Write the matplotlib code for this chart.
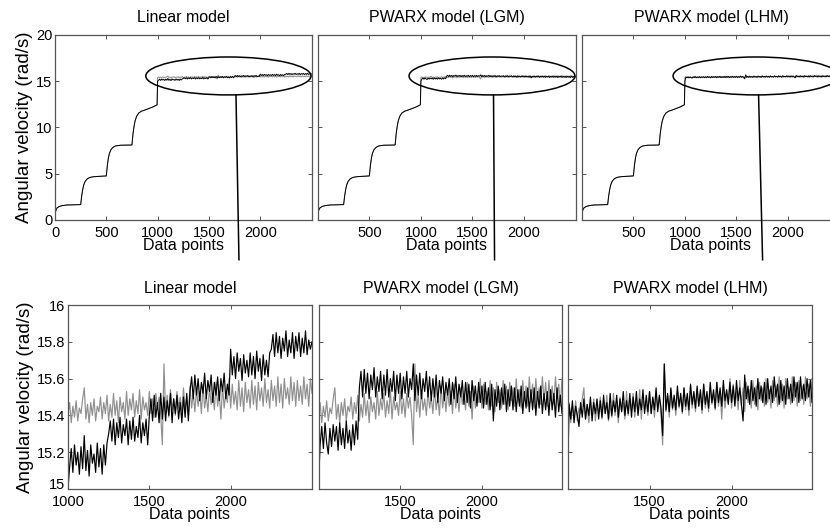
import numpy as np
import matplotlib
matplotlib.use("Agg")
import matplotlib.pyplot as plt
import matplotlib.transforms as mtransforms
from matplotlib.patches import Ellipse

plt.rcParams['font.family'] = ['Liberation Sans', 'DejaVu Sans']

# --- step response up to sample 1000 (shared by all models) ---
step_x = [0, 5, 10, 20, 40, 70, 120, 240, 250, 260, 270, 280, 295, 315, 340, 380,
          490, 500, 510, 520, 530, 545, 565, 590, 640, 745, 750, 760, 770, 780,
          795, 815, 840, 880, 950, 995]
step_y = [0.5, 0.9, 1.1, 1.3, 1.45, 1.55, 1.62, 1.65, 1.66, 2.6, 3.3, 3.8, 4.2, 4.45,
          4.6, 4.68, 4.75, 4.76, 5.9, 6.7, 7.2, 7.6, 7.85, 8.0, 8.08, 8.1, 8.12,
          9.3, 10.1, 10.7, 11.2, 11.55, 11.75, 11.9, 12.2, 12.45]

# --- last plateau, one reading every 10 samples from 1000 to 2500 ---
tail_x = np.arange(1000, 2501, 10)

measured = [
    15.40, 15.47, 15.36, 15.45, 15.39, 15.48, 15.37, 15.44, 15.41, 15.49,
    15.55, 15.38, 15.46, 15.36, 15.47, 15.40, 15.49, 15.37, 15.45, 15.42,
    15.50, 15.38, 15.47, 15.41, 15.51, 15.37, 15.46, 15.39, 15.52, 15.40,
    15.48, 15.36, 15.50, 15.42, 15.47, 15.38, 15.53, 15.40, 15.49, 15.43,
    15.52, 15.39, 15.48, 15.41, 15.54, 15.38, 15.50, 15.43, 15.47, 15.40,
    15.53, 15.41, 15.49, 15.39, 15.52, 15.44, 15.50, 15.40, 15.24, 15.68,
    15.42, 15.51, 15.39, 15.54, 15.43, 15.49, 15.40, 15.53, 15.44, 15.50,
    15.41, 15.55, 15.43, 15.50, 15.40, 15.56, 15.44, 15.52, 15.42, 15.54,
    15.45, 15.53, 15.41, 15.57, 15.44, 15.51, 15.42, 15.55, 15.46, 15.52,
    15.43, 15.58, 15.45, 15.53, 15.38, 15.56, 15.44, 15.52, 15.47, 15.60,
    15.44, 15.57, 15.46, 15.53, 15.43, 15.59, 15.45, 15.55, 15.42, 15.58,
    15.47, 15.54, 15.44, 15.59, 15.46, 15.56, 15.43, 15.58, 15.48, 15.55,
    15.45, 15.60, 15.47, 15.54, 15.44, 15.59, 15.48, 15.56, 15.45, 15.61,
    15.47, 15.57, 15.44, 15.60, 15.49, 15.55, 15.46, 15.61, 15.48, 15.58,
    15.45, 15.59, 15.48, 15.56, 15.46, 15.61, 15.49, 15.57, 15.45, 15.60,
    15.52]

linear = [
    15.00, 15.12, 15.22, 15.09, 15.24, 15.13, 15.20, 15.08, 15.23, 15.11,
    15.29, 15.10, 15.21, 15.07, 15.24, 15.14, 15.19, 15.09, 15.25, 15.12,
    15.22, 15.08, 15.24, 15.13, 15.25, 15.30, 15.37, 15.26, 15.38, 15.24,
    15.36, 15.28, 15.39, 15.25, 15.35, 15.29, 15.38, 15.24, 15.37, 15.27,
    15.39, 15.26, 15.34, 15.28, 15.40, 15.25, 15.36, 15.29, 15.38, 15.24,
    15.40, 15.49, 15.37, 15.51, 15.39, 15.47, 15.36, 15.52, 15.38, 15.50,
    15.37, 15.48, 15.40, 15.52, 15.36, 15.49, 15.41, 15.51, 15.38, 15.47,
    15.36, 15.50, 15.39, 15.52, 15.37, 15.53, 15.61, 15.49, 15.62, 15.51,
    15.60, 15.48, 15.58, 15.52, 15.63, 15.49, 15.59, 15.53, 15.62, 15.47,
    15.58, 15.51, 15.61, 15.48, 15.60, 15.53, 15.63, 15.49, 15.57, 15.51,
    15.76, 15.62, 15.72, 15.60, 15.74, 15.64, 15.71, 15.59, 15.73, 15.63,
    15.70, 15.61, 15.74, 15.62, 15.72, 15.60, 15.75, 15.64, 15.71, 15.59,
    15.73, 15.62, 15.70, 15.61, 15.74, 15.76, 15.84, 15.72, 15.85, 15.74,
    15.83, 15.71, 15.82, 15.75, 15.86, 15.72, 15.81, 15.74, 15.85, 15.71,
    15.83, 15.75, 15.85, 15.72, 15.82, 15.74, 15.86, 15.73, 15.81, 15.76,
    15.80]

pwarx_lgm = [
    15.02, 15.24, 15.34, 15.22, 15.36, 15.25, 15.19, 15.33, 15.23, 15.35,
    15.26, 15.34, 15.21, 15.36, 15.24, 15.33, 15.22, 15.37, 15.25, 15.32,
    15.21, 15.35, 15.24, 15.37, 15.27, 15.55, 15.64, 15.50, 15.65, 15.52,
    15.63, 15.49, 15.62, 15.54, 15.66, 15.50, 15.61, 15.53, 15.64, 15.49,
    15.62, 15.51, 15.65, 15.50, 15.60, 15.53, 15.64, 15.48, 15.62, 15.52,
    15.63, 15.49, 15.61, 15.52, 15.64, 15.50, 15.60, 15.54, 15.68, 15.48,
    15.62, 15.51, 15.63, 15.49, 15.60, 15.53, 15.64, 15.50, 15.61, 15.48,
    15.60, 15.50, 15.62, 15.47, 15.59, 15.52, 15.61, 15.48, 15.58, 15.51,
    15.60, 15.46, 15.58, 15.49, 15.61, 15.47, 15.57, 15.50, 15.59, 15.46,
    15.58, 15.47, 15.57, 15.44, 15.59, 15.48, 15.56, 15.45, 15.58, 15.47,
    15.56, 15.44, 15.58, 15.46, 15.55, 15.43, 15.57, 15.37, 15.54, 15.45,
    15.56, 15.43, 15.55, 15.46, 15.57, 15.42, 15.54, 15.45, 15.56, 15.43,
    15.55, 15.42, 15.54, 15.45, 15.56, 15.41, 15.53, 15.44, 15.55, 15.42,
    15.54, 15.43, 15.55, 15.40, 15.53, 15.44, 15.56, 15.41, 15.52, 15.43,
    15.53, 15.40, 15.54, 15.43, 15.52, 15.39, 15.55, 15.42, 15.51, 15.41,
    15.47]

pwarx_lhm = [
    15.02, 15.46, 15.38, 15.48, 15.36, 15.45, 15.40, 15.34, 15.47, 15.39,
    15.49, 15.38, 15.46, 15.40, 15.50, 15.37, 15.47, 15.41, 15.49, 15.38,
    15.48, 15.39, 15.51, 15.41, 15.47, 15.38, 15.52, 15.40, 15.48, 15.42,
    15.51, 15.39, 15.49, 15.42, 15.53, 15.40, 15.48, 15.41, 15.52, 15.39,
    15.50, 15.42, 15.53, 15.40, 15.49, 15.43, 15.54, 15.41, 15.51, 15.42,
    15.53, 15.41, 15.50, 15.43, 15.55, 15.42, 15.51, 15.44, 15.29, 15.68,
    15.43, 15.52, 15.42, 15.55, 15.44, 15.51, 15.43, 15.56, 15.45, 15.52,
    15.42, 15.55, 15.45, 15.52, 15.43, 15.57, 15.46, 15.53, 15.44, 15.56,
    15.45, 15.54, 15.43, 15.57, 15.46, 15.53, 15.44, 15.58, 15.47, 15.54,
    15.44, 15.58, 15.47, 15.55, 15.45, 15.59, 15.48, 15.54, 15.46, 15.58,
    15.47, 15.56, 15.45, 15.59, 15.48, 15.55, 15.46, 15.37, 15.62, 15.49,
    15.56, 15.46, 15.59, 15.48, 15.55, 15.45, 15.60, 15.49, 15.56, 15.47,
    15.58, 15.46, 15.60, 15.49, 15.56, 15.47, 15.61, 15.50, 15.57, 15.46,
    15.59, 15.48, 15.56, 15.46, 15.60, 15.49, 15.57, 15.47, 15.61, 15.50,
    15.58, 15.47, 15.61, 15.49, 15.57, 15.48, 15.60, 15.50, 15.59, 15.47,
    15.52]

titles = ['Linear model', 'PWARX model (LGM)', 'PWARX model (LHM)']
models = [linear, pwarx_lgm, pwarx_lhm]

full_x = np.concatenate([step_x, tail_x])
meas_full = np.concatenate([step_y, measured])

fig = plt.figure(figsize=(8.3, 5.3), dpi=100)

top_pos = [[0.0663, 0.585, 0.3096, 0.349],
           [0.3831, 0.585, 0.3108, 0.349],
           [0.7012, 0.585, 0.3108, 0.349]]
bot_pos = [[0.0819, 0.0774, 0.294, 0.347],
           [0.3843, 0.0774, 0.2928, 0.347],
           [0.6843, 0.0774, 0.294, 0.347]]

gray = '#8f8f8f'
spine_col = '#555555'


def style(ax):
    for s in ax.spines.values():
        s.set_color(spine_col)
        s.set_linewidth(0.9)
    ax.tick_params(direction='in', length=3, width=0.7, color=spine_col,
                   top=True, right=True, labelsize=10.5, pad=2)
    ax.tick_params(axis='x', pad=4)


for k in range(3):
    # overview of the whole run
    ax = fig.add_axes(top_pos[k])
    ax.plot(full_x, meas_full, color=gray, lw=0.7)
    ax.plot(full_x, np.concatenate([step_y, models[k]]), color='black', lw=0.7)
    ax.set_ylim(0, 20)
    ax.set_yticks([0, 5, 10, 15, 20])
    if k == 0:
        ax.set_xlim(0, 2505)
        ax.set_xticks([0, 500, 1000, 1500, 2000])
        ax.set_ylabel('Angular velocity (rad/s)', fontsize=13.5, labelpad=2)
    else:
        ax.set_xlim(1, 2505)
        ax.set_xticks([500, 1000, 1500, 2000])
        ax.set_yticklabels([])
    ax.set_title(titles[k], fontsize=11.5, pad=9)
    ax.set_xlabel('Data points', fontsize=11.5, labelpad=-1)
    style(ax)

    # circled plateau and the pointer down to the zoomed view
    ax.add_patch(Ellipse((1690, 15.57), 1610, 4.1, fill=False, ec='black',
                         lw=1.1, clip_on=False, zorder=5))
    drop = [(1764, 1793), (1705, 1715), (1715, 1754)][k]
    ax.plot(drop, [13.52, -4.3], color='black', lw=1.1, clip_on=False, zorder=5)

    # zoom on the last plateau
    bx = fig.add_axes(bot_pos[k])
    bx.plot(tail_x, measured, color=gray, lw=0.85)
    bx.plot(tail_x, models[k], color='black', lw=0.85)
    bx.set_ylim(15, 16)
    bx.set_yticks([15, 15.2, 15.4, 15.6, 15.8, 16])
    if k == 0:
        bx.set_xlim(1000, 2500)
        bx.set_xticks([1000, 1500, 2000])
        bx.set_yticklabels(['15', '15.2', '15.4', '15.6', '15.8', '16'])
        bx.set_ylabel('Angular velocity (rad/s)', fontsize=13.5, labelpad=2)
    else:
        bx.set_xlim(1003, 2490)
        bx.set_xticks([1500, 2000])
        bx.set_yticklabels([])
    bx.set_title(titles[k], fontsize=11.5, pad=9)
    bx.set_xlabel('Data points', fontsize=11.5, labelpad=-1)
    style(bx)
    if k == 0:
        # lift the lowest y label clear of the "1000" below it
        lift = mtransforms.ScaledTranslation(0, 4 / 72, fig.dpi_scale_trans)
        lab = bx.get_yticklabels()[0]
        lab.set_transform(lab.get_transform() + lift)

fig.savefig('out.png', dpi=100)
